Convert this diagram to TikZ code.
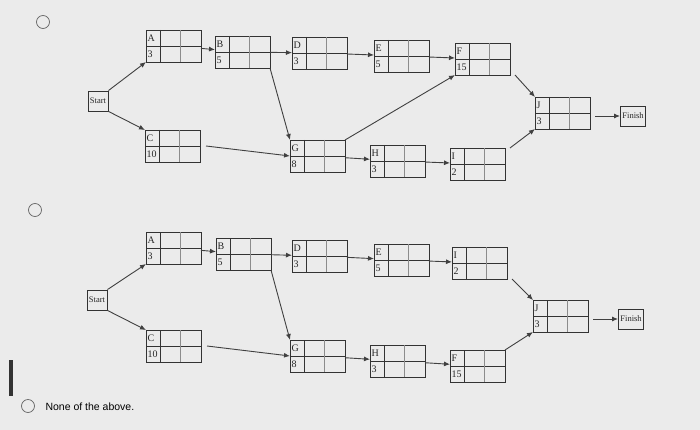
\documentclass[tikz,border=0pt]{standalone}
\usepackage{fontspec}
\newfontfamily\uifont{Liberation Sans}
\setmainfont{Liberation Serif}
\usetikzlibrary{arrows.meta}
\tikzset{
 tb/.style={draw=black!80,line width=0.9pt,minimum width=55pt,minimum height=32pt,inner sep=0pt,outer sep=0pt},
 lbl/.style={font=\fontsize{10}{10}\selectfont,inner sep=0pt,text=black!85},
 endbox/.style={draw=black!80,line width=0.9pt,font=\fontsize{8.5}{9}\selectfont,inner sep=2pt,minimum height=20pt,text=black!85},
 arr/.style={-{Latex[length=6pt,width=5pt]},line width=0.9pt,draw=black!75},
 radio/.style={circle,draw=black!60,line width=0.7pt,minimum size=13pt,inner sep=0pt}
}
\newcommand\tbox[5]{%
 \node[tb,anchor=north west] (#1) at (#2,#3) {};
 \draw[black!80,line width=0.8pt] (#1.west) -- (#1.east);
 \draw[black!80,line width=0.8pt] ([xshift=14pt]#1.north west) -- ([xshift=14pt]#1.south west);
 \draw[black!45,line width=0.5pt] ([xshift=34pt]#1.north west) -- ([xshift=34pt]#1.south west);
 \node[lbl,anchor=west] (#1t) at ([xshift=1.5pt,yshift=-8pt]#1.north west) {#4};
 \node[lbl,anchor=west] (#1n) at ([xshift=1.5pt,yshift=8pt]#1.south west) {#5};}
\begin{document}
\begin{tikzpicture}[x=1pt,y=-1pt]
\fill[black!8] (0,0) rectangle (700,430);
\useasboundingbox (0,0) rectangle (700,430);
\node[radio] (r1) at (43,22) {};
\node[radio] (r2) at (35,210) {};
\node[radio] (r3) at (28,406) {};
\node[anchor=west,font=\uifont\fontsize{10.5}{12}\selectfont] (none) at (42,407) {None of the above.};
\fill[black!80] (9,360) rectangle (13,396);
% top diagram
\node[endbox] (s1) at (98,101) {Start};
\tbox{a1}{146}{30}{A}{3}
\tbox{b1}{215}{36}{B}{5}
\tbox{d1}{292}{37}{D}{3}
\tbox{e1}{374}{40}{E}{5}
\tbox{f1}{455}{43}{F}{15}
\tbox{c1}{145}{130}{C}{10}
\tbox{g1}{290}{140}{G}{8}
\tbox{h1}{370}{145}{H}{3}
\tbox{i1}{450}{148}{I}{2}
\tbox{j1}{535}{97}{J}{3}
\node[endbox,anchor=west] (z1) at (620,116) {Finish};
\draw[arr] (s1.north east) -- (a1.south west);
\draw[arr] (s1.south east) -- (c1.north west);
\draw[arr] (a1) -- (b1);
\draw[arr] (b1) -- (d1);
\draw[arr] (d1) -- (e1);
\draw[arr] (e1) -- (f1);
\draw[arr] (b1.south east) -- (g1.north west);
\draw[arr] ([xshift=6pt]c1.east) -- (g1.west);
\draw[arr] (g1) -- (h1);
\draw[arr] (h1) -- (i1);
\draw[arr] (g1.north east) -- (f1.south west);
\draw[arr] ([xshift=5pt]f1.south east) -- (j1.north west);
\draw[arr] ([xshift=5pt]i1.north east) -- (j1.south west);
\draw[arr] ([xshift=5pt]z1.west -| j1.east) -- (z1.west);
% bottom diagram
\node[endbox] (s2) at (97,300) {Start};
\tbox{a2}{146}{232}{A}{3}
\tbox{b2}{216}{238}{B}{5}
\tbox{d2}{292}{240}{D}{3}
\tbox{e2}{374}{244}{E}{5}
\tbox{i2}{452}{247}{I}{2}
\tbox{c2}{146}{330}{C}{10}
\tbox{g2}{290}{340}{G}{8}
\tbox{h2}{370}{345}{H}{3}
\tbox{f2}{450}{350}{F}{15}
\tbox{j2}{533}{300}{J}{3}
\node[endbox,anchor=west] (z2) at (618,319) {Finish};
\draw[arr] (s2.north east) -- (a2.south west);
\draw[arr] (s2.south east) -- (c2.north west);
\draw[arr] (a2) -- (b2);
\draw[arr] (b2) -- (d2);
\draw[arr] (d2) -- (e2);
\draw[arr] (e2) -- (i2);
\draw[arr] (b2.south east) -- (g2.north west);
\draw[arr] ([xshift=6pt]c2.east) -- (g2.west);
\draw[arr] (g2) -- (h2);
\draw[arr] (h2) -- (f2);
\draw[arr] ([xshift=5pt]i2.south east) -- (j2.north west);
\draw[arr] (f2.north east) -- (j2.south west);
\draw[arr] ([xshift=5pt]z2.west -| j2.east) -- (z2.west);
\end{tikzpicture}
\end{document}
